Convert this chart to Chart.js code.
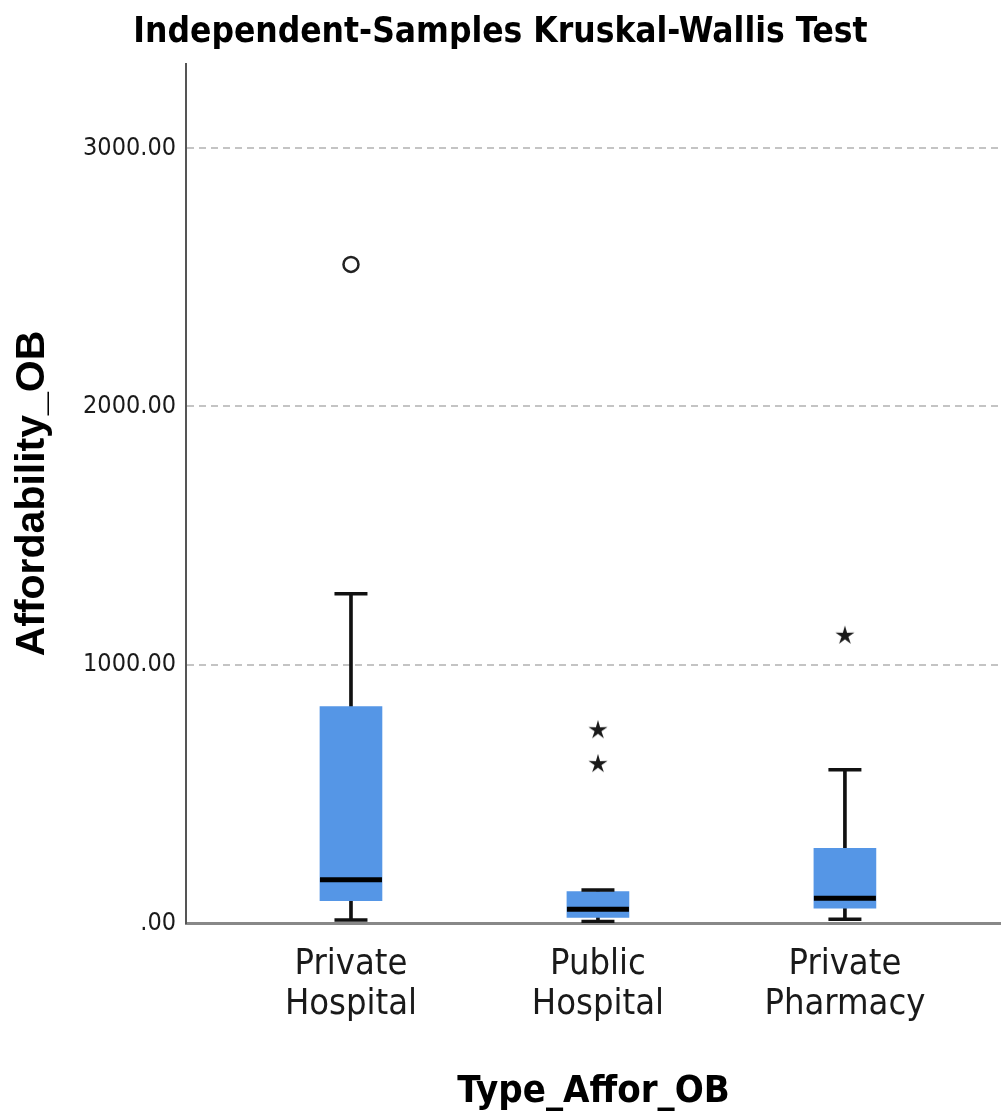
<!DOCTYPE html>
<html>
<head>
<meta charset="utf-8">
<title>Independent-Samples Kruskal-Wallis Test</title>
<script src="https://cdn.jsdelivr.net/npm/chart.js@4.4.1/dist/chart.umd.min.js"></script>
<style>
  html, body { margin: 0; padding: 0; background: #ffffff; }
  #wrap { width: 1001px; height: 1117px; }
</style>
</head>
<body>
<div id="wrap"><canvas id="chart" width="1001" height="1117"></canvas></div>
<script>
// Group labels (two lines each) and their positions on the x scale
const categories = [['Private', 'Hospital'], ['Public', 'Hospital'], ['Private', 'Pharmacy']];
const groupPos = [1, 2, 3];

// Box-plot summary per group
const whiskerLow  = [12, 6, 15];
const q1          = [86, 22, 57];
const median      = [167, 53, 96];
const q3          = [838, 122, 289];
const whiskerHigh = [1275, 128, 593];

// Outliers (circles) and extreme values (stars): group index, value
const outlierGroup = [0];
const outlierValue = [2550];
const extremeGroup = [1, 1, 2];
const extremeValue = [750, 619, 1116];

// Value axis
const yTicks = [0, 1000, 2000, 3000];
const yTickLabels = ['.00', '1000.00', '2000.00', '3000.00'];

const NARROW = "'DejaVu Sans Condensed', 'Liberation Sans Narrow', sans-serif";
const REGULAR = "'Liberation Sans', Arial, sans-serif";
const BOX_COLOR = '#5596e6';

// Small five-pointed star used as point style for extreme values
function makeStar(size) {
  const c = document.createElement('canvas');
  c.width = size; c.height = size;
  const g = c.getContext('2d');
  const cx = size / 2, cy = size / 2 + 0.8;
  const outer = size / 2 - 1, inner = outer * 0.36;
  g.beginPath();
  for (let i = 0; i < 10; i++) {
    const r = i % 2 === 0 ? outer : inner;
    const a = -Math.PI / 2 + i * Math.PI / 5;
    const px = cx + r * Math.cos(a), py = cy + r * Math.sin(a);
    if (i === 0) g.moveTo(px, py); else g.lineTo(px, py);
  }
  g.closePath();
  g.fillStyle = '#1a1a1a';
  g.fill();
  return c;
}
const starImg = makeStar(22);

const boxData = groupPos.map((x, i) => ({ x, y: [q1[i], q3[i]] }));
const lowerWhisker = groupPos.map((x, i) => ({ x, y: [whiskerLow[i], q1[i]] }));
const upperWhisker = groupPos.map((x, i) => ({ x, y: [q3[i], whiskerHigh[i]] }));
const capPoints = groupPos.flatMap((x, i) => [{ x, y: whiskerLow[i] }, { x, y: whiskerHigh[i] }]);
const medianPoints = groupPos.map((x, i) => ({ x, y: median[i] }));
const outlierPoints = outlierGroup.map((g, i) => ({ x: groupPos[g], y: outlierValue[i] }));
const extremePoints = extremeGroup.map((g, i) => ({ x: groupPos[g], y: extremeValue[i] }));

const whitePage = {
  id: 'whitePage',
  beforeDraw(chart) {
    const { ctx } = chart;
    ctx.save();
    ctx.fillStyle = '#ffffff';
    ctx.fillRect(0, 0, chart.width, chart.height);
    ctx.restore();
  }
};

new Chart(document.getElementById('chart'), {
  type: 'bar',
  data: {
    datasets: [
      { type: 'bar', data: lowerWhisker, backgroundColor: '#111111', barThickness: 3, grouped: false, order: 5 },
      { type: 'bar', data: upperWhisker, backgroundColor: '#111111', barThickness: 3, grouped: false, order: 5 },
      { type: 'bar', data: boxData, backgroundColor: BOX_COLOR, borderWidth: 0, barThickness: 62, grouped: false, order: 4 },
      { type: 'scatter', data: capPoints, pointStyle: 'line', pointRadius: 16.5, borderColor: '#111111', pointBorderWidth: 3.5, order: 3 },
      { type: 'scatter', data: medianPoints, pointStyle: 'line', pointRadius: 31, borderColor: '#000000', pointBorderWidth: 5, order: 2 },
      { type: 'scatter', data: outlierPoints, pointStyle: 'circle', pointRadius: 7.5, backgroundColor: '#ffffff', borderColor: '#222222', pointBorderWidth: 2.5, order: 1 },
      { type: 'scatter', data: extremePoints, pointStyle: starImg, pointRadius: 11, order: 1 }
    ]
  },
  options: {
    responsive: false,
    animation: false,
    events: [],
    layout: { padding: 0, autoPadding: false },
    plugins: {
      legend: { display: false },
      tooltip: { enabled: false },
      title: {
        display: true,
        text: 'Independent-Samples Kruskal-Wallis Test',
        color: '#000000',
        font: { family: NARROW, size: 35, weight: 'bold', lineHeight: 1.2 },
        padding: { top: 12, bottom: 10 }
      }
    },
    scales: {
      x: {
        type: 'linear',
        position: 'bottom',
        offset: false,
        min: 0.332,
        max: 3.632,
        afterBuildTicks(scale) { scale.ticks = groupPos.map(v => ({ value: v })); },
        afterFit(scale) { scale.height = 194; },
        ticks: {
          autoSkip: false,
          maxRotation: 0,
          padding: 22,
          color: '#1a1a1a',
          font: { family: NARROW, size: 36, lineHeight: 1.1 },
          callback(value) { const i = groupPos.indexOf(value); return i >= 0 ? categories[i] : ''; }
        },
        grid: { display: true, offset: false, color: 'rgba(0,0,0,0)', drawTicks: false },
        border: { display: true, color: '#888888', width: 3 },
        title: {
          display: true,
          text: 'Type_Affor_OB',
          color: '#000000',
          font: { family: NARROW, size: 38, weight: 'bold', lineHeight: 1.2 },
          padding: { top: 0, bottom: 2 }
        }
      },
      y: {
        type: 'linear',
        position: 'left',
        min: 0,
        max: 3326,
        afterBuildTicks(scale) { scale.ticks = yTicks.map(v => ({ value: v })); },
        afterFit(scale) { scale.width = 186; },
        ticks: {
          padding: 10,
          color: '#1a1a1a',
          font: { family: NARROW, size: 25 },
          callback(value) { const i = yTicks.indexOf(value); return i >= 0 ? yTickLabels[i] : ''; }
        },
        grid: {
          drawTicks: false,
          color: ctx => (ctx.tick && ctx.tick.value === 0) ? 'rgba(0,0,0,0)' : '#c4c4c4',
          lineWidth: 2
        },
        border: { display: true, color: '#555555', width: 2, dash: [7, 5] },
        title: {
          display: true,
          text: 'Affordability_OB',
          color: '#000000',
          font: { family: REGULAR, size: 41, weight: 'bold', lineHeight: 1.2 },
          padding: { top: 8, bottom: 0 }
        }
      }
    }
  },
  plugins: [whitePage]
});
</script>
</body>
</html>
